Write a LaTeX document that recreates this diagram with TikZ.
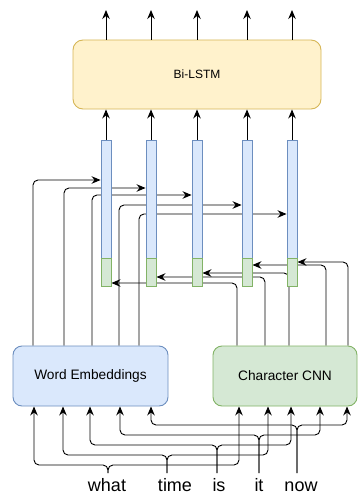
\documentclass[tikz,border=0pt]{standalone}
\usepackage{fontspec}
\setmainfont{Liberation Sans}
\usetikzlibrary{arrows.meta}
\definecolor{bluefill}{HTML}{DAE8FC}
\definecolor{blueline}{HTML}{6C8EBF}
\definecolor{greenfill}{HTML}{D5E8D4}
\definecolor{greenline}{HTML}{82B366}
\definecolor{yellowfill}{HTML}{FFF2CC}
\definecolor{yellowline}{HTML}{D6B656}
\pgfdeclarelayer{bg}
\pgfsetlayers{bg,main}
\begin{document}
\begin{tikzpicture}[x=1pt,y=-1pt,line width=0.9pt,
  bigbox/.style={draw, inner sep=0pt, line width=0.9pt},
  arr/.style={-{Stealth[length=9pt,width=7.5pt,inset=3pt]}, rounded corners=5pt, line width=0.9pt},
  vecb/.style={draw=blueline, fill=bluefill, minimum width=10pt, minimum height=118pt, inner sep=0pt},
  vecg/.style={draw=greenline, fill=greenfill, minimum width=10pt, minimum height=28pt, inner sep=0pt},
  wordlbl/.style={font=\fontsize{18}{20}\selectfont, anchor=base, inner sep=0pt}]
\useasboundingbox (0,0) rectangle (359,495);

% main boxes
\node[bigbox, draw=yellowline, fill=yellowfill, rounded corners=10pt, minimum width=248pt, minimum height=69pt,
  font=\fontsize{12}{14}\selectfont] (lstm) at (197,74.5) {Bi-LSTM};
\node[bigbox, draw=blueline, fill=bluefill, rounded corners=9pt, minimum width=155pt, minimum height=60pt,
  font=\fontsize{13.7}{16}\selectfont] (we) at (90.5,376) {Word Embeddings};
\node[bigbox, draw=greenline, fill=greenfill, rounded corners=9pt, minimum width=144pt, minimum height=60pt,
  font=\fontsize{13.7}{16}\selectfont] (cnn) at (285,376) {Character CNN};

% vectors
\foreach \i/\c in {1/106,2/151,3/197,4/247,5/292}{
  \node[vecb] (vb\i) at (\c,199) {};
  \node[vecg] (vg\i) at (\c,272) {};
  \coordinate (top\i) at (\c,10);
  \draw[arr] (vb\i.north) -- (vb\i.north |- lstm.south);
  \draw[arr] (vb\i.north |- lstm.north) -- (top\i);
}

% words
\node[wordlbl] (what) at (107,491) {what};
\node[wordlbl] (time) at (175,491) {time};
\node[wordlbl] (is) at (219,491) {is};
\node[wordlbl] (it) at (259,491) {it};
\node[wordlbl] (now) at (301,491) {now};
\coordinate (pwhat) at (108,473);
\coordinate (ptime) at (167,473);
\coordinate (pis) at (217,473);
\coordinate (pit) at (259,473);
\coordinate (pnow) at (297,473);

\begin{pgfonlayer}{bg}
% word embeddings -> blue parts
\draw[arr] (33,0 |- we.north) |- (vb1.west |- 0,180);
\draw[arr] (64,0 |- we.north) |- (vb2.west |- 0,188);
\draw[arr] (92,0 |- we.north) |- (vb3.west |- 0,195);
\draw[arr] (119,0 |- we.north) |- (vb4.west |- 0,205);
\draw[arr] (139,0 |- we.north) |- (vb5.west |- 0,214);
% character cnn -> green parts
\draw[arr] (237,0 |- cnn.north) |- (vg1.east |- 0,283);
\draw[arr] (265,0 |- cnn.north) |- (vg2.east |- 0,277);
\draw[arr] (289,0 |- cnn.north) |- (vg3.east |- 0,273);
\draw[arr] (326,0 |- cnn.north) |- (vg4.east |- 0,265);
\draw[arr] (348,0 |- cnn.north) |- (vg5.east |- 0,262);
% words -> boxes
\draw[arr] (pwhat) |- (34,465) -- (34,0 |- we.south);
\draw[arr] (pwhat) |- (239,465) -- (239,0 |- cnn.south);
\draw[arr] (ptime) |- (63,455) -- (63,0 |- we.south);
\draw[arr] (ptime) |- (268,455) -- (268,0 |- cnn.south);
\draw[arr] (pis) |- (90,445) -- (90,0 |- we.south);
\draw[arr] (pis) |- (291,445) -- (291,0 |- cnn.south);
\draw[arr] (pit) |- (120,435) -- (120,0 |- we.south);
\draw[arr] (pit) |- (320,435) -- (320,0 |- cnn.south);
\draw[arr] (pnow) |- (151,425) -- (151,0 |- we.south);
\draw[arr] (pnow) |- (347,425) -- (347,0 |- cnn.south);
\end{pgfonlayer}
\end{tikzpicture}
\end{document}
